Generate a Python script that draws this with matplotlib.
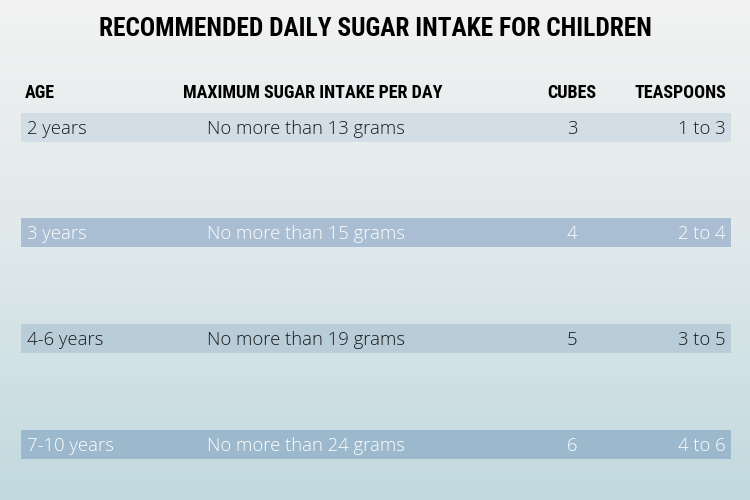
import numpy as np
import matplotlib.pyplot as plt
from matplotlib.colors import LinearSegmentedColormap

FIG_SIZE = (7.5, 5)

title = "RECOMMENDED DAILY SUGAR INTAKE FOR CHILDREN"
headers = ["AGE", "MAXIMUM SUGAR INTAKE PER DAY", "CUBES", "TEASPOONS"]
ages = ["2 years", "3 years", "4-6 years", "7-10 years"]
grams = [13, 15, 19, 24]
cubes = [3, 4, 5, 6]
teaspoons = ["1 to 3", "2 to 4", "3 to 5", "4 to 6"]

bar_colors = ["#d2dde6", "#a9bed2", "#b9cdd8", "#9cb8cc"]
text_colors = ["#1a1a1a", "white", "#1a1a1a", "white"]

cond = ["Roboto Condensed", "DejaVu Sans"]
body = ["Open Sans", "DejaVu Sans"]

fig = plt.figure(figsize=FIG_SIZE, dpi=100)
ax = fig.add_axes([0, 0, 1, 1])
ax.set_xlim(0, 750)
ax.set_ylim(500, 0)
ax.axis("off")

# background gradient
grad = np.linspace(0, 1, 256).reshape(-1, 1)
cmap = LinearSegmentedColormap.from_list("bg", ["#f2f2f2", "#dfe8ea", "#c1d9df"])
ax.imshow(grad, cmap=cmap, aspect="auto", extent=[0, 750, 500, 0], zorder=0)

ax.text(375, 29, title, ha="center", va="center", fontsize=18.3,
        fontweight="bold", fontstretch="condensed", family=cond, color="black")

hx = [25, 183, 572, 726]
has = ["left", "left", "center", "right"]
for h, x, a in zip(headers, hx, has):
    ax.text(x, 93, h, ha=a, va="center", fontsize=13, fontweight="bold",
            fontstretch="condensed", family=cond, color="black")

# rows
for i in range(len(ages)):
    y = 127 + i * 105.7
    ax.barh(y, 710, left=21, height=29, color=bar_colors[i], zorder=1)
    c = text_colors[i]
    ty = y + 1.5
    kw = dict(va="center", fontsize=13.3, family=body, fontweight="light",
              color=c, zorder=2)
    ax.text(27, ty, ages[i], ha="left", **kw)
    ax.text(207, ty, f"No more than {grams[i]} grams", ha="left", **kw)
    ax.text(572, ty, str(cubes[i]), ha="center", **kw)
    ax.text(726, ty, teaspoons[i], ha="right", **kw)

fig.savefig("out.png", dpi=100)
